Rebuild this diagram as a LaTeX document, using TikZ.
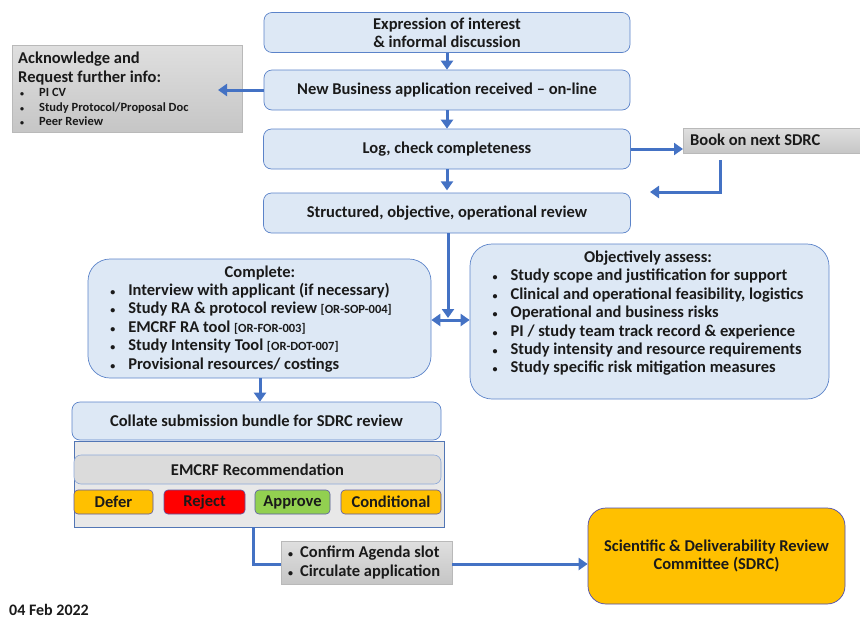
\documentclass[tikz,border=0pt]{standalone}
\usepackage{fontspec}
\setmainfont{Carlito}
\usetikzlibrary{arrows.meta}
\definecolor{boxblue}{HTML}{DDE8F5}
\definecolor{edgeblue}{HTML}{5B83C9}
\definecolor{arrblue}{HTML}{4472C4}
\definecolor{gold}{HTML}{FFC000}
\definecolor{appgreen}{HTML}{92D050}
\definecolor{rejred}{HTML}{FF0000}
\definecolor{txt}{HTML}{1A1A1A}
\newcommand{\smb}{{\fontsize{10}{10}\selectfont\textbullet}}
\newcommand{\bt}{\makebox[18pt][l]{\smb}}
\newcommand{\sbt}{\makebox[19pt][l]{{\fontsize{8}{8}\selectfont\textbullet}}}
\newcommand{\cbt}{\makebox[12pt][l]{\smb}}
\newcommand{\code}[1]{{\fontsize{12.5}{12}\selectfont #1}}
\begin{document}
\begin{tikzpicture}[x=1pt,y=-1pt,
  font=\bfseries\fontsize{16.5}{18.4}\selectfont, text=txt,
  bluebox/.style={draw=edgeblue, line width=0.7pt, fill=boxblue, rounded corners=8pt, inner sep=0pt},
  bigbox/.style={bluebox, rounded corners=22pt},
  graybox/.style={draw=gray!55, line width=0.5pt, top color=gray!25, bottom color=gray!45, inner sep=0pt},
  btn/.style={draw=gray!70!blue, line width=0.6pt, rounded corners=4pt, inner sep=0pt, minimum height=24pt},
  arr/.style={draw=arrblue, line width=3pt, -{Triangle[length=9pt,width=12pt]}},
  dbl/.style={draw=arrblue, line width=3pt, {Triangle[length=9pt,width=12pt]}-{Triangle[length=9pt,width=12pt]}},
  ln/.style={draw=arrblue, line width=3pt}]
\useasboundingbox (0,0) rectangle (860,619);

% main column
\node[bluebox, minimum width=366pt, minimum height=40pt, align=center] (b1) at (447,32.5) {Expression of interest\\\& informal discussion};
\node[bluebox, minimum width=366pt, minimum height=40pt] (b2) at (447,90) {New Business application received -- on-line};
\node[bluebox, minimum width=367pt, minimum height=40pt] (b3) at (447,149) {Log, check completeness};
\node[bluebox, minimum width=367pt, minimum height=40pt] (b4) at (447,213) {Structured, objective, operational review};

% acknowledge box
\node[graybox, minimum width=230pt, minimum height=87pt] (ack) at (127,88.5) {};
\node[anchor=west, align=left, inner sep=0pt, font=\bfseries\fontsize{16.5}{19}\selectfont] (ackhead) at (18,68.5) {Acknowledge and\\Request further info:};
\node[anchor=west, align=left, inner sep=0pt, font=\bfseries\fontsize{12.5}{14.5}\selectfont] (acklist) at (20,107)
  {\sbt PI CV\\\sbt Study Protocol/Proposal Doc\\\sbt Peer Review};
\coordinate (ackend) at (218,90);

% book box
\node[graybox, minimum width=177pt, minimum height=25pt, anchor=north west] (book) at (683,128) {};
\node[anchor=west, inner sep=0pt] (booktxt) at (690,140) {Book on next SDRC};
\coordinate (bk1) at (720,160);
\coordinate (bk2) at (720,192);
\coordinate (bk3) at (650,192);

% complete & assess
\node[bigbox, minimum width=343pt, minimum height=119pt] (cbox) at (259.5,318.5) {};
\node[inner sep=0pt] (ctext) at (251,319.5) {\begin{tabular}{@{}l@{}}\multicolumn{1}{c}{\hspace{18pt}Complete:}\\
\bt Interview with applicant (if necessary)\\
\bt Study RA \& protocol review \code{[OR-SOP-004]}\\
\bt EMCRF RA tool \code{[OR-FOR-003]}\\
\bt Study Intensity Tool \code{[OR-DOT-007]}\\
\bt Provisional resources/ costings\end{tabular}};
\node[bigbox, minimum width=359pt, minimum height=155pt] (obox) at (649.5,321.5) {};
\node[inner sep=0pt] (otext) at (648,314) {\begin{tabular}{@{}l@{}}\multicolumn{1}{c}{Objectively assess:}\\
\bt Study scope and justification for support\\
\bt Clinical and operational feasibility, logistics\\
\bt Operational and business risks\\
\bt PI / study team track record \& experience\\
\bt Study intensity and resource requirements\\
\bt Study specific risk mitigation measures\end{tabular}};
\coordinate (downend) at (448,318);

% collate + recommendation
\node[bluebox, minimum width=369pt, minimum height=38pt] (collate) at (256.5,421) {Collate submission bundle for SDRC review};
\node[draw=edgeblue!90!black, line width=0.7pt, fill=gray!18, minimum width=370pt, minimum height=86pt, inner sep=0pt] (frame) at (259,484) {};
\node[draw=edgeblue!70, line width=0.6pt, fill=gray!28, rounded corners=7pt, minimum width=367pt, minimum height=29pt, inner sep=0pt] (rec) at (257.5,469.5) {EMCRF Recommendation};
\node[btn, fill=gold, minimum width=79pt] (defer) at (113.5,502) {Defer};
\node[btn, fill=rejred, minimum width=81pt] (reject) at (204.5,502) {Reject};
\node[btn, fill=appgreen, minimum width=75pt] (approve) at (292.5,502) {Approve};
\node[btn, fill=gold, minimum width=100pt] (cond) at (391,502) {Conditional};
\coordinate (rc1) at (253,527);
\coordinate (rc2) at (253,564);

% confirm + SDRC
\node[graybox, minimum width=171pt, minimum height=43pt] (confirm) at (366.5,562.5) {};
\node[anchor=west, align=left, inner sep=0pt] (conftext) at (288,562.5) {\cbt Confirm Agenda slot\\\cbt Circulate application};
\node[draw=gray!60!blue, line width=0.7pt, fill=gold, rounded corners=18pt, minimum width=257pt, minimum height=96pt, align=center, inner sep=0pt] (sdrc) at (716.5,556) {Scientific \& Deliverability Review\\Committee (SDRC)};

\node[anchor=west, inner sep=0pt, font=\bfseries\fontsize{16}{18}\selectfont] (date) at (9,610) {04 Feb 2022};

% connectors
\draw[arr] (b1) -- (b2);
\draw[arr] (b2) -- (b3);
\draw[arr] (b3.south) -- ++(0,21);
\draw[arr] (b2.west) -- (ackend);
\draw[arr] (b3.east) -- (b3.east -| book.west);
\draw[arr] (bk1) -- (bk2) -- (bk3);
\draw[arr] (b4.south -| downend) -- (downend);
\draw[dbl] (cbox.east |- 0,320) -- (obox.west |- 0,320);
\draw[arr] (cbox.south -| 260,0) -- (collate.north -| 260,0);
\draw[ln] (rc1) -- (rc2) -- (confirm.west |- rc2);
\draw[arr] (confirm.east |- rc2) -- (sdrc.west |- rc2);
\end{tikzpicture}
\end{document}
